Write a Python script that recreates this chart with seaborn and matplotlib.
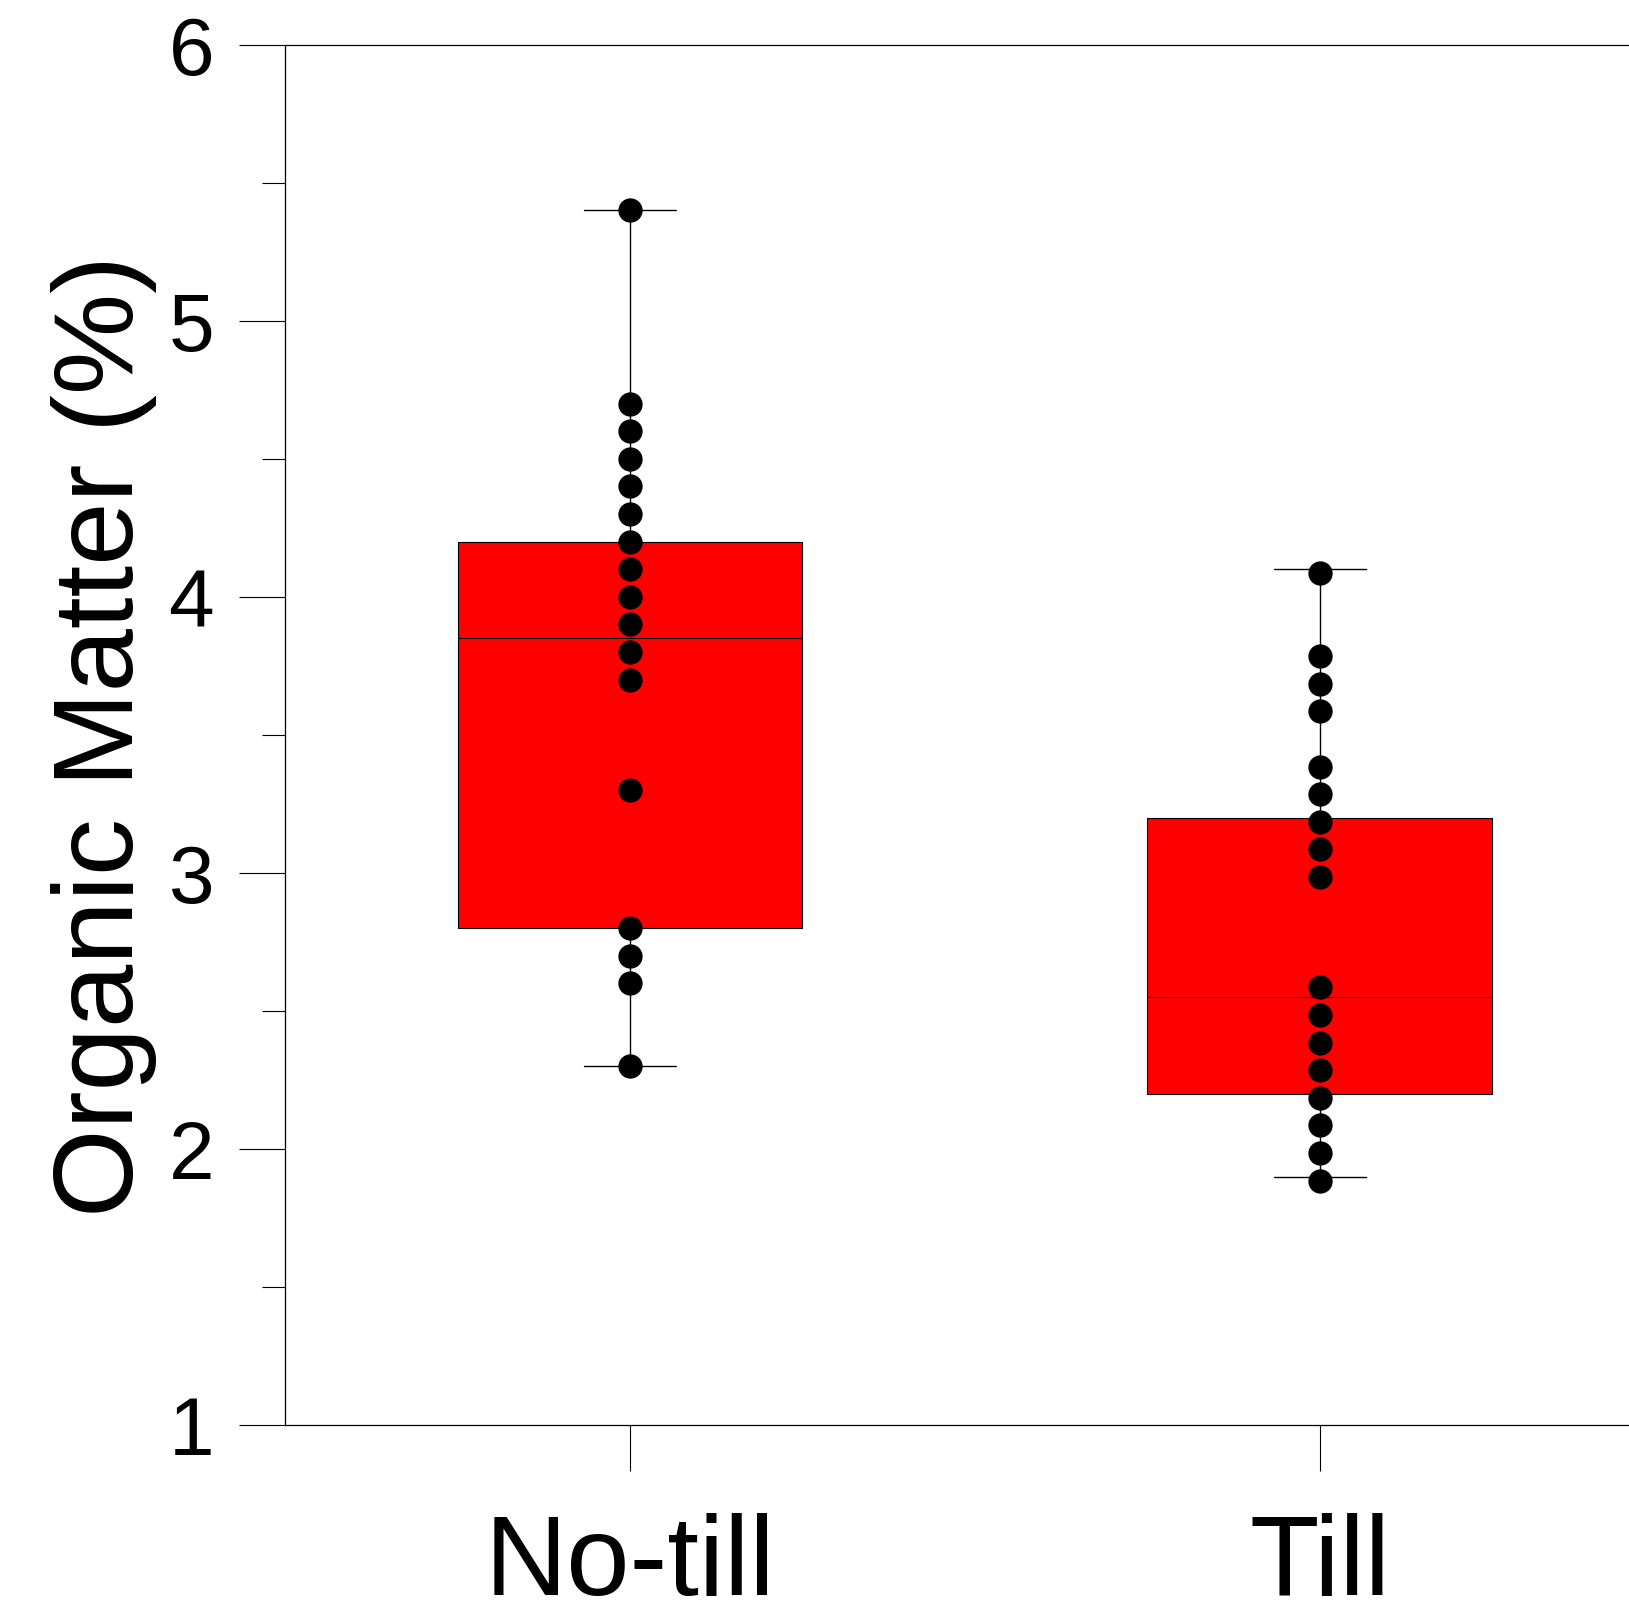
import matplotlib
matplotlib.use("Agg")
import matplotlib.pyplot as plt
import seaborn as sns
import pandas as pd
from matplotlib.ticker import MultipleLocator

# Categories and observations
treatments = ["No-till", "Till"]
no_till_values = [5.4, 4.7, 4.6, 4.5, 4.4, 4.3, 4.2, 4.1, 4.0, 3.9, 3.8, 3.7,
                  3.3, 2.8, 2.7, 2.6, 2.3]
till_values = [4.085, 3.785, 3.685, 3.585, 3.385, 3.285, 3.185, 3.085, 2.985,
               2.585, 2.485, 2.385, 2.285, 2.185, 2.085, 1.985, 1.885]

# Box summaries (lower whisker, Q1, median, Q3, upper whisker)
whisker_low = [2.3, 1.9]
q1 = [2.8, 2.2]
median = [3.85, 2.55]
q3 = [4.2, 3.2]
whisker_high = [5.4, 4.1]

y_ticks = [1, 2, 3, 4, 5, 6]

df = pd.DataFrame({
    "treatment": [treatments[0]] * len(no_till_values) + [treatments[1]] * len(till_values),
    "om": no_till_values + till_values,
})

sns.set_theme(style="ticks", rc={
    "text.color": "black",
    "axes.labelcolor": "black",
    "xtick.color": "black",
    "ytick.color": "black",
    "axes.edgecolor": "black",
})
plt.rcParams["font.family"] = ["Liberation Sans", "DejaVu Sans"]

fig = plt.figure(figsize=(16.29, 16.08), dpi=100)
ax = fig.add_axes([0.175, 0.1132, 0.847, 0.8584])

stats = []
for i, name in enumerate(treatments):
    stats.append({
        "label": name,
        "whislo": whisker_low[i],
        "q1": q1[i],
        "med": median[i],
        "q3": q3[i],
        "whishi": whisker_high[i],
        "fliers": [],
    })

ax.bxp(stats, positions=[0, 1], widths=0.5, capwidths=0.134, patch_artist=True,
       showfliers=False,
       boxprops=dict(facecolor="#ff0000", edgecolor="black", linewidth=0.8),
       medianprops=dict(color="black", linewidth=0.8),
       whiskerprops=dict(color="black", linewidth=1.0),
       capprops=dict(color="black", linewidth=1.0),
       zorder=2)

sns.stripplot(data=df, x="treatment", y="om", order=treatments, jitter=False,
              color="black", size=17.5, linewidth=0, ax=ax, zorder=3)

ax.set_xlim(-0.5, 1.5)
ax.set_ylim(1, 6)
ax.set_xticks([0, 1])
ax.set_xticklabels(treatments)
ax.set_yticks(y_ticks)
ax.set_yticklabels([str(t) for t in y_ticks])
ax.yaxis.set_minor_locator(MultipleLocator(0.5))

ax.set_xlabel("")
ax.set_ylabel("Organic Matter (%)", fontsize=82, labelpad=8, color="black")

ax.tick_params(axis="y", which="major", direction="out", length=33, width=0.8,
               labelsize=59, pad=18, color="black", labelcolor="black")
ax.tick_params(axis="y", which="minor", direction="out", length=16.5, width=0.8,
               color="black")
ax.tick_params(axis="x", which="major", direction="out", length=33, width=0.8,
               labelsize=82, pad=30, color="black", labelcolor="black")

for side in ["left", "bottom", "top", "right"]:
    ax.spines[side].set_visible(True)
    ax.spines[side].set_linewidth(0.9)
    ax.spines[side].set_color("black")

fig.savefig("out.png", dpi=100)
